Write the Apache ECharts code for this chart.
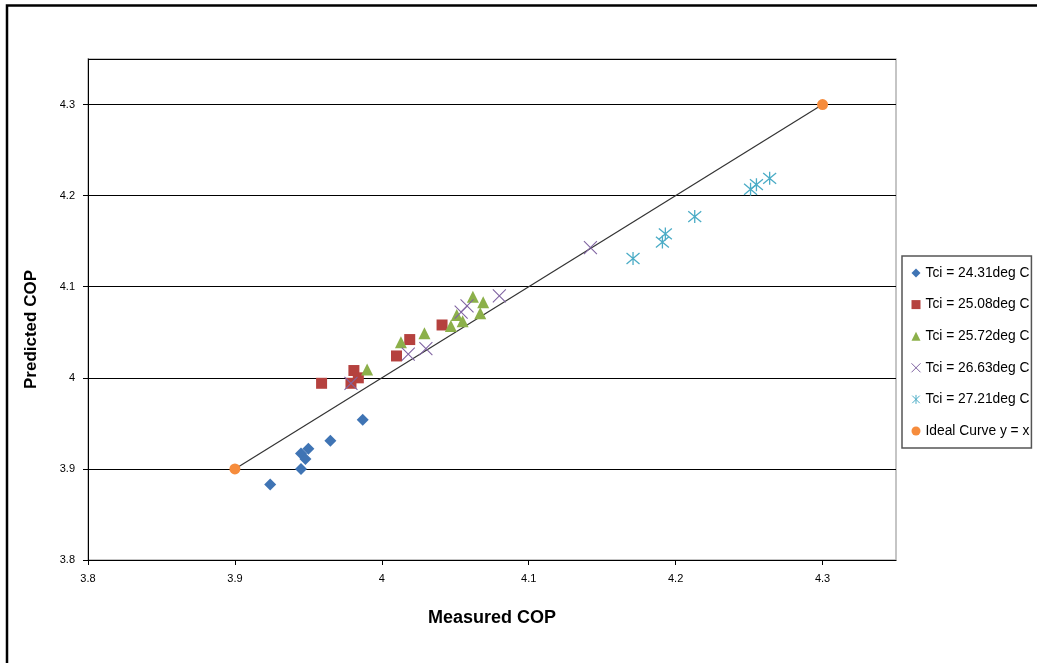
<!DOCTYPE html>
<html>
<head>
<meta charset="utf-8">
<script src="https://cdn.jsdelivr.net/npm/echarts@6/dist/echarts.min.js"></script>
<style>
  html, body { margin: 0; padding: 0; background: #fff; }
  #chart { width: 1037px; height: 663px; }
</style>
</head>
<body>
<div id="chart"></div>
<script>
// measured COP / predicted COP pairs, one list per inlet temperature
var tci2431 = [[3.924, 3.883], [3.945, 3.900], [3.945, 3.917], [3.948, 3.911], [3.950, 3.922], [3.965, 3.931], [3.987, 3.954]];
var tci2508 = [[3.959, 3.994], [3.979, 3.994], [3.981, 4.008], [3.984, 4.000], [4.010, 4.024], [4.019, 4.042], [4.041, 4.058]];
var tci2572 = [[3.990, 4.009], [4.013, 4.039], [4.029, 4.049], [4.047, 4.057], [4.051, 4.069], [4.055, 4.062], [4.062, 4.089], [4.069, 4.083], [4.067, 4.071]];
var tci2663 = [[3.979, 3.994], [4.018, 4.026], [4.030, 4.032], [4.054, 4.072], [4.058, 4.079], [4.080, 4.090], [4.142, 4.143]];
var tci2721 = [[4.171, 4.131], [4.191, 4.149], [4.193, 4.158], [4.213, 4.177], [4.251, 4.207], [4.255, 4.212], [4.264, 4.219]];
var ideal = [[3.9, 3.9], [4.3, 4.3]];

var seriesNames = ['Tci = 24.31deg C', 'Tci = 25.08deg C', 'Tci = 25.72deg C', 'Tci = 26.63deg C', 'Tci = 27.21deg C', 'Ideal Curve y = x'];

var font = '"Liberation Sans", Arial, sans-serif';
var crossPath = 'path://M0,0L10,10M10,0L0,10';
var starPath = 'path://M0,0L10,10M10,0L0,10M5,-1L5,11';

var myChart = echarts.init(document.getElementById('chart'));

var option = {
  backgroundColor: '#fff',
  animation: false,
  textStyle: { fontFamily: font },
  graphic: [
    {
      type: 'polyline',
      shape: { points: [[7, 663], [7, 5.5], [1037, 5.5]] },
      style: { stroke: '#000', lineWidth: 2.5, fill: null }
    }
  ],
  grid: {
    left: 88, top: 59, right: 141, bottom: 103,
    show: true,
    borderColor: '#b3b3b3',
    borderWidth: 1.5
  },
  legend: {
    orient: 'vertical',
    left: 902, top: 256,
    padding: [10, 2, 10, 9],
    itemGap: 17.6,
    itemWidth: 9, itemHeight: 9,
    borderColor: '#555',
    borderWidth: 1.5,
    textStyle: { fontSize: 13.8, color: '#000', fontFamily: font },
    data: [
      { name: seriesNames[0], icon: 'diamond' },
      { name: seriesNames[1], icon: 'rect' },
      { name: seriesNames[2], icon: 'triangle' },
      { name: seriesNames[3], icon: crossPath, itemStyle: { color: 'transparent', borderColor: '#8064a2', borderWidth: 1 } },
      { name: seriesNames[4], icon: starPath, itemStyle: { color: 'transparent', borderColor: '#4bacc6', borderWidth: 1 } },
      { name: seriesNames[5], icon: 'circle' }
    ]
  },
  xAxis: {
    type: 'value',
    min: 3.8, max: 4.35, interval: 0.1,
    name: 'Measured COP',
    nameLocation: 'middle',
    nameGap: 49,
    nameTextStyle: { fontSize: 18, fontWeight: 'bold', color: '#000' },
    axisLine: { lineStyle: { color: '#000', width: 1 } },
    axisTick: { show: true, length: 5, inside: false, lineStyle: { color: '#000' } },
    axisLabel: {
      color: '#000', fontSize: 11, margin: 13, showMaxLabel: false,
      formatter: function (v) { return String(+v.toFixed(2)); }
    },
    splitLine: { show: false }
  },
  yAxis: {
    type: 'value',
    min: 3.8, max: 4.35, interval: 0.1,
    name: 'Predicted COP',
    nameLocation: 'middle',
    nameGap: 48,
    nameTextStyle: { fontSize: 17, fontWeight: 'bold', color: '#000', padding: [0, 40, 0, 0] },
    axisLine: { show: true, lineStyle: { color: '#000', width: 1 } },
    axisTick: { show: true, length: 5, inside: false, lineStyle: { color: '#000' } },
    axisLabel: {
      color: '#000', fontSize: 11, margin: 13, showMaxLabel: false,
      formatter: function (v) { return String(+v.toFixed(2)); }
    },
    splitLine: { show: true, lineStyle: { color: '#000', width: 1 } }
  },
  series: [
    {
      name: 'Ideal Curve y = x', type: 'line', data: ideal,
      symbol: 'circle', symbolSize: 11, z: 1,
      lineStyle: { color: '#333', width: 1.2 },
      itemStyle: { color: '#f68c3c', opacity: 1 }
    },
    {
      name: seriesNames[0], type: 'scatter', data: tci2431,
      symbol: 'diamond', symbolSize: 12,
      itemStyle: { color: '#3f74b4', opacity: 1 }
    },
    {
      name: seriesNames[1], type: 'scatter', data: tci2508,
      symbol: 'rect', symbolSize: 11,
      itemStyle: { color: '#b5413e', opacity: 1 }
    },
    {
      name: seriesNames[2], type: 'scatter', data: tci2572,
      symbol: 'triangle', symbolSize: 12,
      itemStyle: { color: '#8cb04a', opacity: 1 }
    },
    {
      name: seriesNames[3], type: 'scatter', data: tci2663,
      symbol: crossPath, symbolSize: 13,
      itemStyle: { color: 'transparent', borderColor: '#8064a2', borderWidth: 1.1, opacity: 1 }
    },
    {
      name: seriesNames[4], type: 'scatter', data: tci2721,
      symbol: starPath, symbolSize: 13,
      itemStyle: { color: 'transparent', borderColor: '#4bacc6', borderWidth: 1.3, opacity: 1 }
    }
  ]
};

option && myChart.setOption(option);
</script>
</body>
</html>
